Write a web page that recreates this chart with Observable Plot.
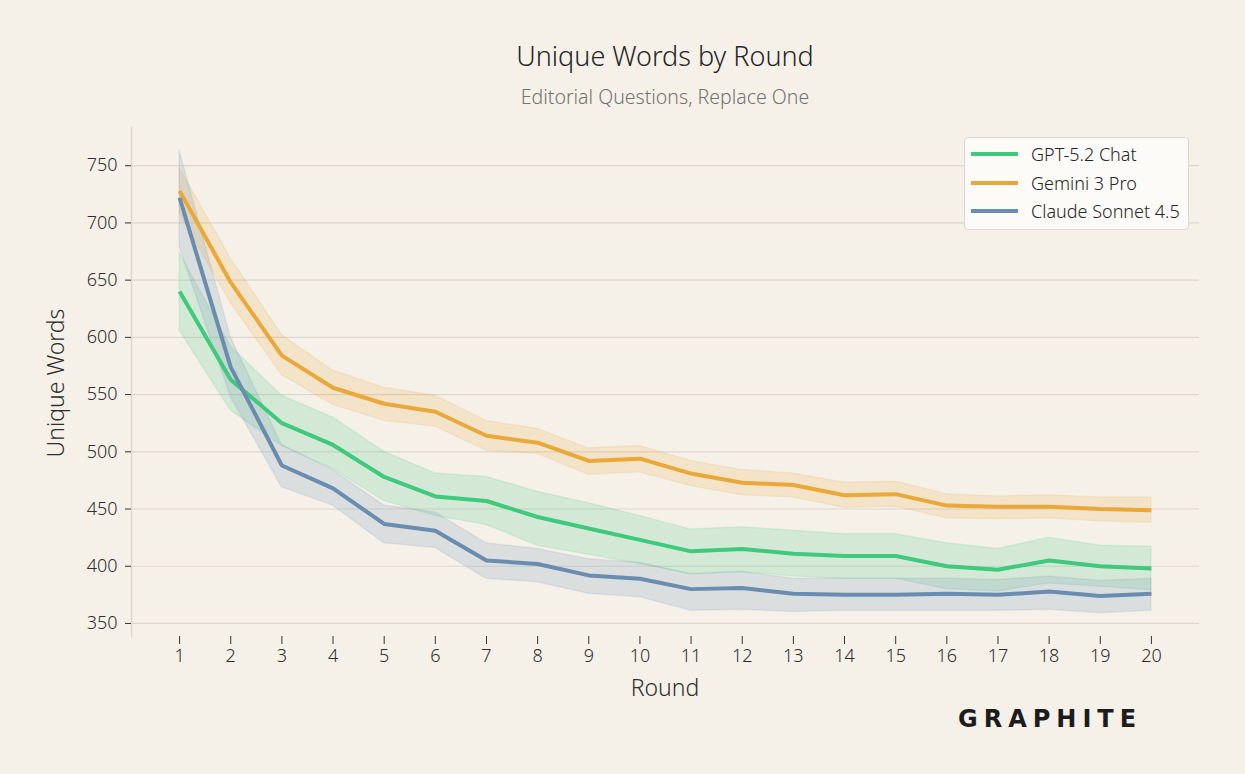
<!DOCTYPE html>
<html><head><meta charset="utf-8">
<script src="https://cdn.jsdelivr.net/npm/d3@7"></script>
<script src="https://cdn.jsdelivr.net/npm/@observablehq/plot@0.6"></script>
<style>
body{margin:0;background:#f5f1e9;font-family:"Noto Sans",sans-serif;width:1245px;height:774px;overflow:hidden;position:relative;color:#2b2b2b}
.abs{position:absolute}
#title{left:131px;width:1068px;top:37px;text-align:center;font-size:27px;line-height:37px;font-weight:300;color:#262626}
#subtitle{left:131px;width:1068px;top:84px;text-align:center;font-size:19.5px;line-height:26px;font-weight:300;color:#747170}
#chart{left:0;top:110px}
#xlabel{left:131px;width:1068px;top:672px;text-align:center;font-size:23px;line-height:31px;font-weight:300;color:#2e2e2e}
#ylabel{left:55px;top:383px;font-size:23px;font-weight:300;color:#2e2e2e;transform:translate(-50%,-50%) rotate(-90deg);white-space:nowrap}
#legend{left:964px;top:137px;width:225px;height:93px;background:#fcfbf8;border:1.5px solid #dcd8d2;border-radius:4px;box-sizing:border-box}
.item{position:absolute;left:6px;height:20px;display:flex;align-items:center;font-size:18px;font-weight:300;color:#262626;white-space:nowrap}
.sw{width:47px;height:4px;margin-right:13px}
#logo{left:958px;top:705px;font-size:24px;font-weight:700;letter-spacing:6px;color:#1c1c1c;font-family:"DejaVu Sans",sans-serif}
</style></head>
<body>
<div id="title" class="abs">Unique Words by Round</div>
<div id="subtitle" class="abs">Editorial Questions, Replace One</div>
<div id="chart" class="abs"></div>
<div id="xlabel" class="abs">Round</div>
<div id="ylabel" class="abs">Unique Words</div>
<div id="legend" class="abs"></div>
<div id="logo" class="abs">GRAPHITE</div>
<script>
const rounds = [1,2,3,4,5,6,7,8,9,10,11,12,13,14,15,16,17,18,19,20];
const yTicks = [350,400,450,500,550,600,650,700,750];
const models = ["GPT-5.2 Chat","Gemini 3 Pro","Claude Sonnet 4.5"];
const colors = ["#3ec97d","#e9a838","#6a8caf"];

const gptMean = [640,563,525,506,478,461,457,443,433,423,413,415,411,409,409,400,397,405,400,398];
const gptHigh = [674,592,549,530,500,481,478,465,455,444,432,434,431,428,428,420,415,425,418,417];
const gptLow  = [606,536,505,485,457,444,436,418,410,402,393,395,391,389,389,380,378,385,382,379];

const geminiMean = [728,648,584,556,542,535,514,508,492,494,481,473,471,462,463,453,452,452,450,449];
const geminiHigh = [748,669,602,571,556,549,527,520,503,505,492,484,481,473,474,463,461,462,460,460];
const geminiLow  = [708,630,567,541,527,522,501,498,480,482,470,462,460,451,452,442,441,442,439,438];

const claudeMean = [722,574,488,468,437,431,405,402,392,389,380,381,376,375,375,376,375,378,374,376];
const claudeHigh = [763,600,506,484,453,447,420,415,406,403,393,395,389,389,389,389,388,391,387,389];
const claudeLow  = [679,548,469,453,420,416,389,386,376,373,361,362,360,361,361,361,361,362,359,361];

const series = [
  [gptMean,gptLow,gptHigh],
  [geminiMean,geminiLow,geminiHigh],
  [claudeMean,claudeLow,claudeHigh]
];
const data = [];
series.forEach((s,i)=>rounds.forEach((r,j)=>data.push({model:models[i],round:r,mean:s[0][j],low:s[1][j],high:s[2][j]})));

const marks = [
  Plot.gridY(yTicks,{stroke:"#ddd6ce",strokeOpacity:1,strokeWidth:1.2}),
  Plot.frame({anchor:"left",stroke:"#ddd6ce",strokeWidth:1.5})
];
models.forEach((m,i)=>{
  marks.push(Plot.areaY(data.filter(d=>d.model===m),{x:"round",y1:"low",y2:"high",fill:colors[i],fillOpacity:0.18,stroke:colors[i],strokeOpacity:0.14,strokeWidth:1.5}));
});
models.forEach((m,i)=>{
  marks.push(Plot.lineY(data.filter(d=>d.model===m),{x:"round",y:"mean",stroke:colors[i],strokeWidth:4,strokeLinejoin:"miter",strokeLinecap:"butt"}));
});
marks.push(Plot.axisX(rounds,{tickSize:8,tickPadding:5,stroke:"#333",fill:"#2e2e2e",label:null,tickFormat:d=>d}));
marks.push(Plot.axisY(yTicks,{tickSize:6,tickPadding:8,stroke:"#333",fill:"#2e2e2e",label:null}));

const chart = Plot.plot({
  width:1245,height:620,
  marginLeft:131,marginRight:46,marginTop:17,marginBottom:94,
  style:{background:"transparent",fontFamily:"'Noto Sans',sans-serif",fontSize:"18px",fontWeight:"300",color:"#2e2e2e"},
  x:{type:"linear",domain:[0.06,20.94]},
  y:{domain:[338.6,783.4]},
  marks
});
document.getElementById("chart").appendChild(chart);

const lg = document.getElementById("legend");
models.forEach((m,i)=>{
  const it=document.createElement("div");
  it.className="item";
  it.style.top=(6+i*28.5)+"px";
  it.innerHTML=`<span class="sw" style="background:${colors[i]}"></span>${m}`;
  lg.appendChild(it);
});
</script>
</body></html>
